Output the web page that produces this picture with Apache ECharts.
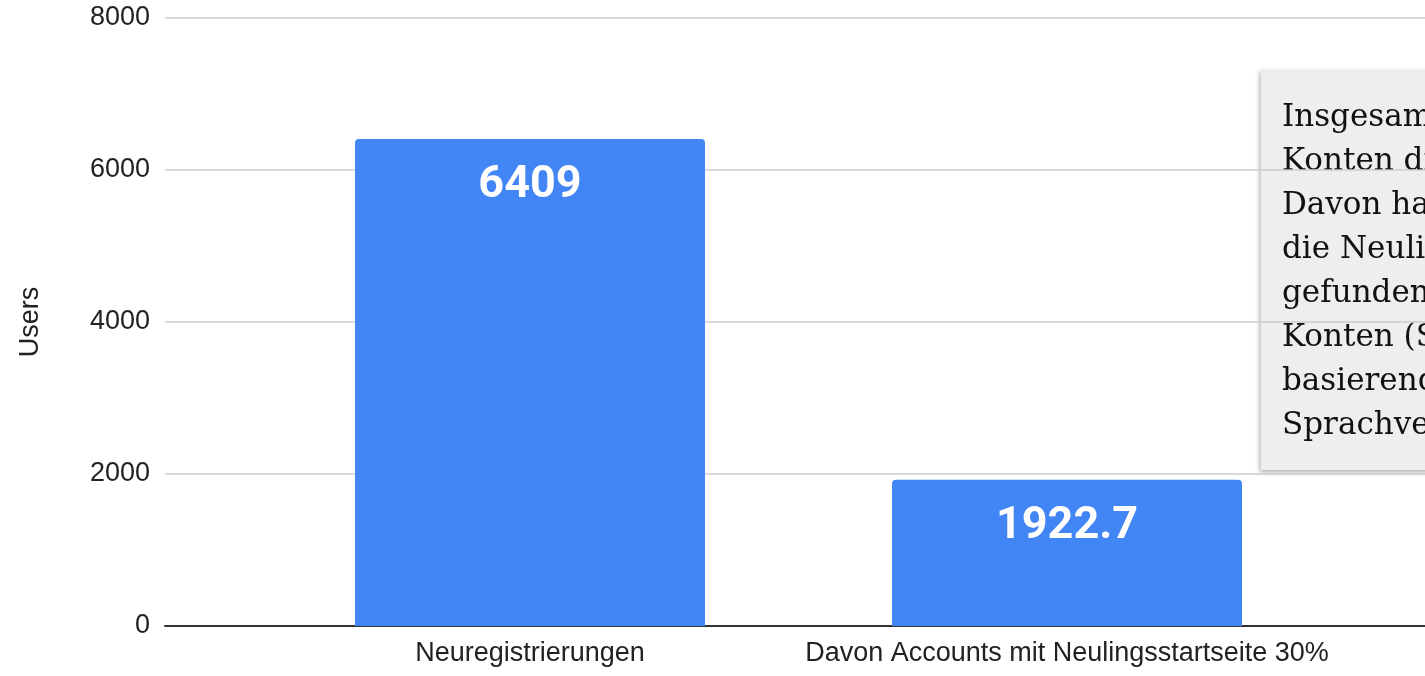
<!DOCTYPE html>
<html lang="de">
<head>
<meta charset="UTF-8">
<title>Neuregistrierungen</title>
<script src="https://cdn.jsdelivr.net/npm/echarts@6/dist/echarts.min.js"></script>
<style>
  html, body { margin: 0; padding: 0; background: #fff; }
  #main { width: 1425px; height: 676px; }
</style>
</head>
<body>
<div id="main"></div>
<script>
// data
var categories = ['Neuregistrierungen', 'Davon Accounts mit Neulingsstartseite 30%'];
var users = [6409, 1922.7];
var yTicks = [0, 2000, 4000, 6000, 8000];
var noteLines = [
    'Insgesamt wurden 6409',
    'Konten dieses Jahr erstellt.',
    'Davon haben etwa 30%',
    'die Neulingsstartseite',
    'gefunden, also ca. 1922.7',
    'Konten (Schätzung',
    'basierend auf',
    'Sprachversionen).'
];

var chart = echarts.init(document.getElementById('main'));
var labelFont = 'Liberation Sans, Arial, sans-serif';

var option = {
    animation: false,
    grid: [
        // background grid: gridlines, y labels, zero line
        {left: 165, right: 0, top: 18, bottom: 50},
        // bars
        {left: 261.5, width: 1074, top: 18, bottom: 50}
    ],
    xAxis: [
        {
            gridIndex: 0, type: 'value', min: 0, max: 1,
            axisLine: {show: true, lineStyle: {color: '#333', width: 2}},
            axisTick: {show: false}, axisLabel: {show: false}, splitLine: {show: false}
        },
        {
            gridIndex: 1, type: 'category', data: categories,
            axisLine: {show: false}, axisTick: {show: false},
            axisLabel: {color: '#222', fontSize: 27, fontFamily: labelFont, margin: 14, interval: 0}
        }
    ],
    yAxis: [
        {
            gridIndex: 0, type: 'value',
            min: yTicks[0], max: yTicks[yTicks.length - 1], interval: 2000,
            name: 'Users', nameLocation: 'middle', nameRotate: 90, nameGap: 121,
            nameTextStyle: {color: '#222', fontSize: 27, fontFamily: labelFont},
            axisLine: {show: false}, axisTick: {show: false},
            axisLabel: {
                color: '#222', fontSize: 27, fontFamily: labelFont, margin: 15,
                formatter: function (v) { return String(v); }
            },
            splitLine: {lineStyle: {color: '#cccccc', width: 1.5}}
        },
        {
            gridIndex: 1, type: 'value',
            min: yTicks[0], max: yTicks[yTicks.length - 1], interval: 2000,
            show: false, splitLine: {show: false}
        }
    ],
    series: [{
        type: 'bar',
        xAxisIndex: 1, yAxisIndex: 1,
        data: users,
        barWidth: 350,
        itemStyle: {color: '#4285f4', borderRadius: [4, 4, 0, 0]},
        label: {
            show: true, position: 'insideTop', distance: 24,
            color: '#fff', fontSize: 45, fontWeight: 'bold', fontFamily: 'Roboto, sans-serif'
        },
        z: 3
    }],
    graphic: [{
        type: 'group', left: 1261, top: 70, z: 10,
        children: [{
            type: 'rect',
            shape: {x: 0, y: 0, width: 480, height: 400},
            style: {fill: '#eeeeee', shadowBlur: 5, shadowOffsetX: -1, shadowOffsetY: 2, shadowColor: 'rgba(0,0,0,0.35)'}
        }, {
            type: 'text', x: 21, y: 26,
            style: {
                text: noteLines.join('\n'),
                fill: '#111', fontSize: 31, lineHeight: 44,
                fontFamily: 'DejaVu Serif, serif'
            }
        }]
    }]
};
chart.setOption(option);
</script>
</body>
</html>
